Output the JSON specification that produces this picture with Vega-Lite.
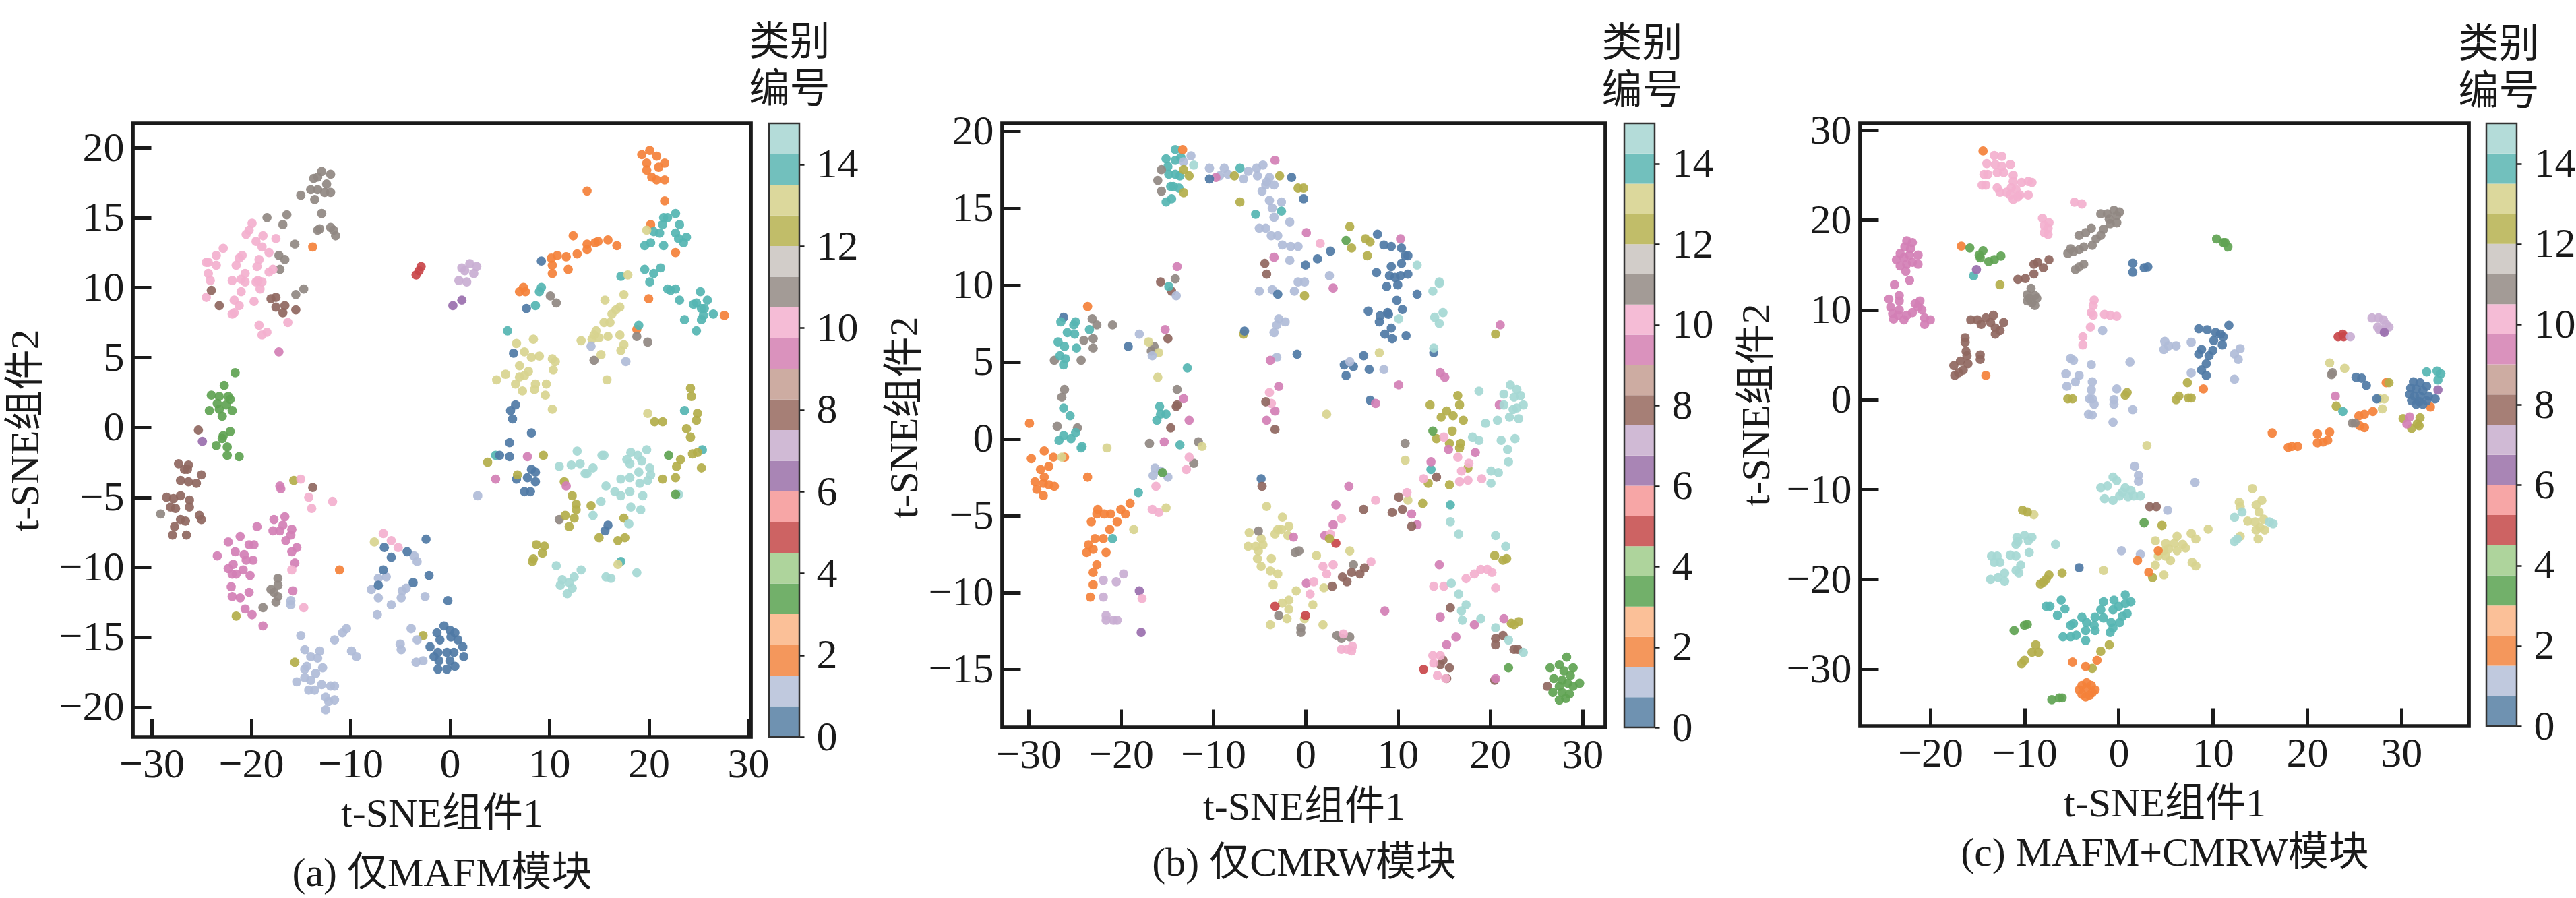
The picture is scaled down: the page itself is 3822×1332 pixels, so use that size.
{
"$schema":"https://vega.github.io/schema/vega-lite/v6.json",
"autosize":{"type":"none"},
"padding":{"left":197,"top":177,"right":3625,"bottom":1155},
"background":"white",
"resolve":{"scale":{"color":"independent"}},
"config":{"view":{"stroke":null},"font":"Liberation Serif, Noto Sans CJK SC",
"axis":{"grid":false,"domain":false,"tickColor":"#1a1a1a","labelColor":"#1a1a1a","titleColor":"#1a1a1a","labelFont":"Liberation Serif","titleFont":"Liberation Serif, Noto Sans CJK SC","labelFontSize":62,"titleFontSize":60,"titleFontWeight":"normal","labelOverlap":false,"labelBound":false,"labelFlush":false},
"title":{"font":"Liberation Serif, Noto Sans CJK SC","fontSize":60,"fontWeight":"normal","color":"#1a1a1a","lineHeight":70,"anchor":"middle"}},
"datasets":{
"bands":[{"v0":0,"v1":0.75,"c":0},{"v0":0.75,"v1":1.5,"c":1},{"v0":1.5,"v1":2.25,"c":2},{"v0":2.25,"v1":3,"c":3},{"v0":3,"v1":3.75,"c":4},{"v0":3.75,"v1":4.5,"c":5},{"v0":4.5,"v1":5.25,"c":6},{"v0":5.25,"v1":6,"c":7},{"v0":6,"v1":6.75,"c":8},{"v0":6.75,"v1":7.5,"c":9},{"v0":7.5,"v1":8.25,"c":10},{"v0":8.25,"v1":9,"c":11},{"v0":9,"v1":9.75,"c":12},{"v0":9.75,"v1":10.5,"c":13},{"v0":10.5,"v1":11.25,"c":14},{"v0":11.25,"v1":12,"c":15},{"v0":12,"v1":12.75,"c":16},{"v0":12.75,"v1":13.5,"c":17},{"v0":13.5,"v1":14.25,"c":18},{"v0":14.25,"v1":15,"c":19}],
"a":[
{"x":-12.9,"y":18.3,"c":14},{"x":-12,"y":18.1,"c":14},{"x":-13.3,"y":17.9,"c":14},{"x":-13.7,"y":17.8,"c":14},{"x":-12.4,"y":17.4,"c":14},{"x":-14,"y":17,"c":14},{"x":-13.3,"y":17,"c":14},{"x":-12.6,"y":16.8,"c":14},{"x":-12,"y":16.8,"c":14},{"x":-15,"y":16.6,"c":14},{"x":-13.6,"y":16.3,"c":14},{"x":-12.9,"y":15.3,"c":14},{"x":-16.4,"y":15.2,"c":14},{"x":-18.4,"y":15,"c":14},{"x":-16.8,"y":14.5,"c":14},{"x":-13.3,"y":14.1,"c":14},{"x":-13.1,"y":14.2,"c":14},{"x":-12,"y":14.3,"c":14},{"x":-11.7,"y":14.1,"c":14},{"x":-11.5,"y":13.7,"c":14},{"x":-15.6,"y":13.1,"c":14},{"x":-17.2,"y":12.3,"c":14},{"x":-16.6,"y":12,"c":14},{"x":-17.1,"y":11.3,"c":14},{"x":-14.7,"y":9.9,"c":14},{"x":-15.5,"y":9.5,"c":14},{"x":-13.8,"y":12.9,"c":2},
{"x":-19.9,"y":14.6,"c":13},{"x":-20.2,"y":14.1,"c":13},{"x":-20.5,"y":13.8,"c":13},{"x":-22.8,"y":12.8,"c":13},{"x":-23.5,"y":12.3,"c":13},{"x":-20.9,"y":12.3,"c":13},{"x":-21.2,"y":12.1,"c":13},{"x":-24.5,"y":11.8,"c":13},{"x":-24.3,"y":11.8,"c":13},{"x":-23.5,"y":11.6,"c":13},{"x":-21.5,"y":11.6,"c":13},{"x":-24.3,"y":11,"c":13},{"x":-24.1,"y":10.5,"c":13},{"x":-24.5,"y":9.3,"c":13},{"x":-21.9,"y":10.5,"c":13},{"x":-21,"y":10.6,"c":13},{"x":-20.6,"y":11,"c":13},{"x":-20.6,"y":10.4,"c":13},{"x":-19.5,"y":13.3,"c":13},{"x":-18.8,"y":13.7,"c":13},{"x":-18.9,"y":12.9,"c":13},{"x":-17.5,"y":13.5,"c":13},{"x":-18.2,"y":12.5,"c":13},{"x":-19.2,"y":12,"c":13},{"x":-19.4,"y":11.5,"c":13},{"x":-18.2,"y":11.1,"c":13},{"x":-17.8,"y":11.3,"c":13},{"x":-19.3,"y":10.5,"c":13},{"x":-19.5,"y":10.4,"c":13},{"x":-18.9,"y":10.4,"c":13},{"x":-19.1,"y":9.9,"c":13},{"x":-21,"y":9.7,"c":13},{"x":-21.7,"y":9.1,"c":13},{"x":-19.7,"y":9,"c":13},{"x":-21.2,"y":8.7,"c":13},{"x":-21.7,"y":8.2,"c":13},{"x":-21.9,"y":8.1,"c":13},{"x":-19.2,"y":7.3,"c":13},{"x":-18.4,"y":6.8,"c":13},{"x":-18.9,"y":6.6,"c":13},{"x":-16.3,"y":7.5,"c":13},{"x":-17.2,"y":5.4,"c":12},
{"x":-24,"y":9.8,"c":10},{"x":-23.2,"y":8.7,"c":10},{"x":-18,"y":9.2,"c":10},{"x":-17.5,"y":9.3,"c":10},{"x":-17.5,"y":8.6,"c":10},{"x":-16.6,"y":8.7,"c":10},{"x":-16.8,"y":8.2,"c":10},{"x":-15.5,"y":8.4,"c":10},
{"x":-2.9,"y":11.5,"c":6},{"x":-3.1,"y":11.2,"c":6},{"x":-3.4,"y":10.9,"c":6},{"x":2,"y":11.7,"c":9},{"x":2.7,"y":11.5,"c":9},{"x":1.2,"y":11.4,"c":9},{"x":1.5,"y":11.2,"c":9},{"x":2.4,"y":11,"c":9},{"x":0.9,"y":10.5,"c":9},{"x":1.7,"y":10.4,"c":9},{"x":1.2,"y":9.1,"c":8},{"x":0.3,"y":8.7,"c":8},
{"x":20.1,"y":19.8,"c":2},{"x":19.3,"y":19.5,"c":2},{"x":20.8,"y":19.4,"c":2},{"x":19.8,"y":18.9,"c":2},{"x":21.6,"y":18.9,"c":2},{"x":21,"y":18.6,"c":2},{"x":19.8,"y":18.4,"c":2},{"x":20.3,"y":17.9,"c":2},{"x":20.8,"y":17.7,"c":2},{"x":21.6,"y":17.7,"c":2},{"x":21.6,"y":16.2,"c":2},{"x":13.8,"y":16.9,"c":2},{"x":20.2,"y":14.5,"c":2},{"x":12.4,"y":13.7,"c":2},{"x":13.8,"y":13.1,"c":2},{"x":13.8,"y":12.7,"c":2},{"x":14.6,"y":13.2,"c":2},{"x":14.9,"y":13.3,"c":2},{"x":15.9,"y":13.4,"c":2},{"x":16.8,"y":13,"c":2},{"x":12.8,"y":12.4,"c":2},{"x":11.7,"y":12.2,"c":2},{"x":10.2,"y":12.1,"c":2},{"x":10.8,"y":12.3,"c":2},{"x":10.3,"y":11.6,"c":2},{"x":10.3,"y":11,"c":2},{"x":11.9,"y":11.3,"c":2},{"x":22.7,"y":12.5,"c":2},{"x":7.4,"y":10,"c":2},{"x":7,"y":9.7,"c":2},{"x":7.6,"y":9.7,"c":2},{"x":20,"y":9.2,"c":2},{"x":27.6,"y":8,"c":2},{"x":18.8,"y":7,"c":2},{"x":-11.1,"y":-10.2,"c":2},
{"x":22.7,"y":15.3,"c":18},{"x":21.5,"y":15,"c":18},{"x":21.9,"y":15,"c":18},{"x":21.4,"y":14.5,"c":18},{"x":23.1,"y":14.5,"c":18},{"x":20.5,"y":14,"c":18},{"x":21.1,"y":13.9,"c":18},{"x":22.7,"y":13.9,"c":18},{"x":23,"y":13.5,"c":18},{"x":23.8,"y":13.6,"c":18},{"x":23.5,"y":13.2,"c":18},{"x":20.2,"y":13.2,"c":18},{"x":19.6,"y":13,"c":18},{"x":21.5,"y":13,"c":18},{"x":19.6,"y":11.3,"c":18},{"x":21.2,"y":11.4,"c":18},{"x":20.5,"y":11,"c":18},{"x":20.1,"y":10.4,"c":18},{"x":17.2,"y":10.8,"c":18},{"x":9.2,"y":10,"c":18},{"x":9,"y":9.7,"c":18},{"x":8.6,"y":8.7,"c":18},{"x":21.9,"y":9.9,"c":18},{"x":22.7,"y":9.9,"c":18},{"x":22.2,"y":9.8,"c":18},{"x":23.1,"y":9.1,"c":18},{"x":24.8,"y":8.9,"c":18},{"x":24.5,"y":8.8,"c":18},{"x":25.2,"y":9.7,"c":18},{"x":25.9,"y":9.1,"c":18},{"x":25.6,"y":8.5,"c":18},{"x":25.3,"y":8.5,"c":18},{"x":26.5,"y":8.1,"c":18},{"x":25.5,"y":8,"c":18},{"x":25.3,"y":7.7,"c":18},{"x":23.6,"y":7.7,"c":18},{"x":24.8,"y":6.9,"c":18},{"x":19,"y":7.3,"c":18},{"x":5.8,"y":6.9,"c":18},{"x":23.6,"y":1.2,"c":18},{"x":25.4,"y":-1.6,"c":18},{"x":4.6,"y":-2,"c":18},{"x":17.2,"y":-9.6,"c":18},
{"x":10.1,"y":9.4,"c":14},{"x":10.7,"y":8.9,"c":14},{"x":18.8,"y":6.5,"c":14},{"x":19.9,"y":6.1,"c":14},{"x":14.5,"y":4.8,"c":14},{"x":11,"y":-6.6,"c":14},
{"x":9.2,"y":11.9,"c":0},{"x":7.7,"y":8.5,"c":0},{"x":6.4,"y":5.3,"c":0},{"x":6.6,"y":1.6,"c":0},{"x":6.1,"y":1.2,"c":0},{"x":6.3,"y":0.6,"c":0},{"x":8.2,"y":-0.4,"c":0},{"x":6,"y":-1.1,"c":0},{"x":5,"y":-2,"c":0},{"x":6,"y":-2.1,"c":0},{"x":8.2,"y":-3,"c":0},{"x":8.6,"y":-3.2,"c":0},{"x":7.8,"y":-3.6,"c":0},{"x":8.6,"y":-3.9,"c":0},{"x":6.7,"y":-3.7,"c":0},{"x":7.5,"y":-4.6,"c":0},{"x":8.1,"y":-4.6,"c":0},{"x":15.9,"y":-7,"c":0},{"x":15.6,"y":-7.4,"c":0},
{"x":17.9,"y":10.9,"c":17},{"x":17.5,"y":9.5,"c":17},{"x":15.6,"y":9.1,"c":17},{"x":17.1,"y":8.6,"c":17},{"x":16.7,"y":8.4,"c":17},{"x":16.3,"y":8.1,"c":17},{"x":16.1,"y":7.5,"c":17},{"x":15.5,"y":7.5,"c":17},{"x":14.7,"y":6.9,"c":17},{"x":14.5,"y":6.6,"c":17},{"x":17.1,"y":6.6,"c":17},{"x":13.2,"y":6.2,"c":17},{"x":14.3,"y":6.3,"c":17},{"x":15,"y":6.4,"c":17},{"x":15.9,"y":6.5,"c":17},{"x":17.5,"y":5.9,"c":17},{"x":17.2,"y":5.5,"c":17},{"x":15.2,"y":5.2,"c":17},{"x":15.8,"y":3.4,"c":17},{"x":8.4,"y":6.3,"c":17},{"x":6.7,"y":6,"c":17},{"x":7.5,"y":5.4,"c":17},{"x":8.2,"y":5,"c":17},{"x":9,"y":5.1,"c":17},{"x":10.3,"y":4.9,"c":17},{"x":10.6,"y":4.7,"c":17},{"x":10.4,"y":4.1,"c":17},{"x":7,"y":4.4,"c":17},{"x":7.9,"y":4,"c":17},{"x":5.6,"y":3.8,"c":17},{"x":7,"y":3.6,"c":17},{"x":7.5,"y":3.7,"c":17},{"x":4.7,"y":3.4,"c":17},{"x":6.6,"y":3.1,"c":17},{"x":8.6,"y":3.1,"c":17},{"x":9.7,"y":3.1,"c":17},{"x":8.5,"y":2.7,"c":17},{"x":7.3,"y":2.6,"c":17},{"x":9.6,"y":2.3,"c":17},{"x":10.3,"y":1.3,"c":17},{"x":19.9,"y":1,"c":17},{"x":19.8,"y":14.1,"c":17},{"x":-7.6,"y":-8.2,"c":17},{"x":16.9,"y":-9.8,"c":17},{"x":14.2,"y":5.8,"c":1},{"x":17.7,"y":4.7,"c":1},{"x":2.8,"y":-4.9,"c":1},
{"x":-15.7,"y":-3.8,"c":16},{"x":24.2,"y":2.8,"c":16},{"x":24.3,"y":2.2,"c":16},{"x":24.9,"y":1,"c":16},{"x":24.8,"y":0.5,"c":16},{"x":20.6,"y":0.4,"c":16},{"x":21.4,"y":0.4,"c":16},{"x":23.8,"y":-0.1,"c":16},{"x":24.2,"y":-0.7,"c":16},{"x":24.4,"y":-1.9,"c":16},{"x":24.9,"y":-1.8,"c":16},{"x":23.2,"y":-2.3,"c":16},{"x":22.8,"y":-2.8,"c":16},{"x":25.3,"y":-2.9,"c":16},{"x":21.4,"y":-3.7,"c":16},{"x":22.7,"y":-3.6,"c":16},{"x":9.4,"y":-2,"c":16},{"x":3.8,"y":-2.5,"c":16},{"x":6.8,"y":-3.4,"c":16},{"x":11.5,"y":-3.9,"c":16},{"x":12.3,"y":-4.9,"c":16},{"x":12.7,"y":-5.5,"c":16},{"x":12.7,"y":-5.9,"c":16},{"x":14.2,"y":-5.6,"c":16},{"x":11.6,"y":-6.3,"c":16},{"x":12.5,"y":-6.5,"c":16},{"x":12,"y":-7.1,"c":16},{"x":17.5,"y":-6.5,"c":16},{"x":15,"y":-7.9,"c":16},{"x":16.9,"y":-8.1,"c":16},{"x":17.6,"y":-7.9,"c":16},{"x":8.7,"y":-8.4,"c":16},{"x":9.5,"y":-8.5,"c":16},{"x":9.3,"y":-9,"c":16},{"x":8.4,"y":-9.4,"c":16},{"x":8.3,"y":-9.6,"c":16},{"x":-21.5,"y":-13.5,"c":16},{"x":-15.6,"y":-16.8,"c":16},{"x":-2.7,"y":-14.9,"c":16},
{"x":22,"y":-2,"c":4},{"x":23,"y":-4.8,"c":19},{"x":22.7,"y":-4.8,"c":4},{"x":7.8,"y":-2.1,"c":12},{"x":4.6,"y":-3.7,"c":12},{"x":11.7,"y":-4.2,"c":12},{"x":-24.9,"y":-1,"c":8},
{"x":12.8,"y":-1.7,"c":19},{"x":11,"y":-2.8,"c":19},{"x":12.2,"y":-2.7,"c":19},{"x":13.1,"y":-2.6,"c":19},{"x":14.4,"y":-2.9,"c":19},{"x":13.6,"y":-3.3,"c":19},{"x":13.8,"y":-3.3,"c":19},{"x":15.3,"y":-2,"c":19},{"x":15.5,"y":-2,"c":19},{"x":18.2,"y":-1.8,"c":19},{"x":19.8,"y":-1.6,"c":19},{"x":17.8,"y":-2.3,"c":19},{"x":18.9,"y":-2,"c":19},{"x":19.3,"y":-2.4,"c":19},{"x":18.1,"y":-2.6,"c":19},{"x":20.1,"y":-2.9,"c":19},{"x":19,"y":-3.2,"c":19},{"x":20.2,"y":-3.4,"c":19},{"x":17.2,"y":-3.7,"c":19},{"x":18.1,"y":-3.6,"c":19},{"x":19.9,"y":-3.8,"c":19},{"x":19.1,"y":-4,"c":19},{"x":15.7,"y":-4.2,"c":19},{"x":16.6,"y":-4.6,"c":19},{"x":17.2,"y":-4.9,"c":19},{"x":18.1,"y":-4.6,"c":19},{"x":19.4,"y":-4.9,"c":19},{"x":15.2,"y":-5.3,"c":19},{"x":18.2,"y":-5.7,"c":19},{"x":14.4,"y":-6.3,"c":19},{"x":19.2,"y":-5.9,"c":19},{"x":18,"y":-6.9,"c":19},{"x":10.7,"y":-9.9,"c":19},{"x":13.2,"y":-10.2,"c":19},{"x":12.5,"y":-10.7,"c":19},{"x":11.3,"y":-10.9,"c":19},{"x":12,"y":-11.1,"c":19},{"x":11.1,"y":-11.3,"c":19},{"x":12.3,"y":-11.5,"c":19},{"x":11.8,"y":-11.9,"c":19},{"x":15.7,"y":-10.7,"c":19},{"x":16.2,"y":-10.8,"c":19},{"x":18.8,"y":-10.4,"c":19},
{"x":-21.6,"y":3.9,"c":4},{"x":-22.7,"y":3,"c":4},{"x":-24,"y":2.3,"c":4},{"x":-23.2,"y":2.2,"c":4},{"x":-22.3,"y":2.2,"c":4},{"x":-22.1,"y":2,"c":4},{"x":-23.4,"y":1.7,"c":4},{"x":-22.5,"y":1.6,"c":4},{"x":-24.2,"y":1.2,"c":4},{"x":-23.2,"y":1.3,"c":4},{"x":-21.9,"y":1.2,"c":4},{"x":-22.9,"y":0.8,"c":4},{"x":-22.1,"y":-0.3,"c":4},{"x":-22.8,"y":-0.6,"c":4},{"x":-22.9,"y":-0.8,"c":4},{"x":-23.5,"y":-1.3,"c":4},{"x":-22.4,"y":-1.4,"c":4},{"x":-22.4,"y":-2,"c":4},{"x":-21.2,"y":-2.1,"c":4},{"x":-25.3,"y":-0.2,"c":10},
{"x":-27.3,"y":-2.6,"c":10},{"x":-26.3,"y":-2.7,"c":10},{"x":-26.7,"y":-3,"c":10},{"x":-26.4,"y":-3,"c":10},{"x":-25,"y":-3.4,"c":10},{"x":-27.1,"y":-3.8,"c":10},{"x":-26.3,"y":-3.9,"c":10},{"x":-25.5,"y":-4,"c":10},{"x":-28.5,"y":-5,"c":10},{"x":-27.1,"y":-4.9,"c":10},{"x":-27.8,"y":-5.1,"c":10},{"x":-26.2,"y":-5.2,"c":10},{"x":-26.2,"y":-5.7,"c":10},{"x":-28.1,"y":-5.7,"c":10},{"x":-27.6,"y":-5.8,"c":10},{"x":-25.2,"y":-6.3,"c":10},{"x":-25,"y":-6.6,"c":10},{"x":-27.1,"y":-6.6,"c":10},{"x":-26.6,"y":-6.7,"c":10},{"x":-27.7,"y":-7.1,"c":10},{"x":-27.9,"y":-7.7,"c":10},{"x":-26.5,"y":-7.7,"c":10},{"x":-29.1,"y":-6.2,"c":14},
{"x":-17.1,"y":-4.2,"c":12},{"x":-17,"y":-4.4,"c":12},{"x":-16.6,"y":-6.4,"c":12},{"x":-17.7,"y":-6.6,"c":12},{"x":-16.8,"y":-7,"c":12},{"x":-15.9,"y":-7.3,"c":12},{"x":-17.8,"y":-7.4,"c":12},{"x":-17.1,"y":-7.4,"c":12},{"x":-16,"y":-7.7,"c":12},{"x":-16.5,"y":-8.1,"c":12},{"x":-15.4,"y":-8.6,"c":12},{"x":-15.9,"y":-8.9,"c":12},{"x":-19.4,"y":-7.1,"c":12},{"x":-21.1,"y":-7.8,"c":12},{"x":-22.3,"y":-8.2,"c":12},{"x":-20.2,"y":-8.4,"c":12},{"x":-19.7,"y":-8.4,"c":12},{"x":-23.4,"y":-9.2,"c":12},{"x":-21.6,"y":-8.9,"c":12},{"x":-20.7,"y":-9.1,"c":12},{"x":-19.8,"y":-9.5,"c":12},{"x":-20.5,"y":-9.5,"c":12},{"x":-21.8,"y":-9.8,"c":12},{"x":-22.3,"y":-10.1,"c":12},{"x":-21.9,"y":-10.5,"c":12},{"x":-20.8,"y":-10.2,"c":12},{"x":-21.5,"y":-10.5,"c":12},{"x":-20.1,"y":-10.6,"c":12},{"x":-15.6,"y":-9.7,"c":12},{"x":-22,"y":-11.4,"c":12},{"x":-20.2,"y":-11.8,"c":12},{"x":-15.8,"y":-11.7,"c":12},{"x":-21.9,"y":-12.1,"c":12},{"x":-21.1,"y":-12.2,"c":12},{"x":-20.6,"y":-13,"c":12},{"x":-19.9,"y":-13.4,"c":12},{"x":-18.8,"y":-14.2,"c":12},
{"x":-15,"y":-3.7,"c":13},{"x":-14.2,"y":-5,"c":13},{"x":-13.9,"y":-5.8,"c":13},{"x":-11.8,"y":-5.3,"c":13},{"x":-15.9,"y":-10.2,"c":13},{"x":-14.7,"y":-12.9,"c":13},{"x":-6.7,"y":-7.6,"c":13},{"x":-5.9,"y":-8.1,"c":13},{"x":-5.2,"y":-8.6,"c":13},{"x":-13.8,"y":-4.3,"c":10},
{"x":-17.3,"y":-10.8,"c":14},{"x":-17.3,"y":-11.3,"c":14},{"x":-17.7,"y":-11.8,"c":14},{"x":-17.3,"y":-12.1,"c":14},{"x":-17.5,"y":-12.5,"c":14},{"x":-18.8,"y":-12.9,"c":14},{"x":-18,"y":-11.6,"c":14},
{"x":-16,"y":-12.4,"c":1},{"x":-16,"y":-12.7,"c":1},{"x":-15,"y":-14.9,"c":1},{"x":-10.4,"y":-14.4,"c":1},{"x":-10.8,"y":-14.7,"c":1},{"x":-11.6,"y":-15.2,"c":1},{"x":-9.9,"y":-16,"c":1},{"x":-9.4,"y":-16.4,"c":1},{"x":-14.6,"y":-15.9,"c":1},{"x":-13.1,"y":-16,"c":1},{"x":-14,"y":-16.4,"c":1},{"x":-13.3,"y":-16.5,"c":1},{"x":-14.4,"y":-17.1,"c":1},{"x":-14.6,"y":-17.3,"c":1},{"x":-12.8,"y":-17.2,"c":1},{"x":-13.5,"y":-17.6,"c":1},{"x":-14.6,"y":-17.9,"c":1},{"x":-15.4,"y":-18.2,"c":1},{"x":-14,"y":-18.1,"c":1},{"x":-12.9,"y":-18.4,"c":1},{"x":-12,"y":-18.5,"c":1},{"x":-11.6,"y":-18.5,"c":1},{"x":-14.2,"y":-18.8,"c":1},{"x":-13.6,"y":-18.8,"c":1},{"x":-12.5,"y":-19.3,"c":1},{"x":-11.6,"y":-19.5,"c":1},{"x":-12.2,"y":-19.6,"c":1},{"x":-12.5,"y":-20.2,"c":1},
{"x":-3.6,"y":-9.2,"c":1},{"x":-3.3,"y":-9.6,"c":1},{"x":-7.9,"y":-11.6,"c":1},{"x":-6.4,"y":-10.7,"c":1},{"x":-7.2,"y":-10.8,"c":1},{"x":-4.4,"y":-11.5,"c":1},{"x":-4.8,"y":-11.7,"c":1},{"x":-7.2,"y":-12.2,"c":1},{"x":-4.9,"y":-12.2,"c":1},{"x":-2.5,"y":-12.1,"c":1},{"x":-5.9,"y":-12.7,"c":1},{"x":-7.3,"y":-13.4,"c":1},{"x":-3.9,"y":-14.4,"c":1},{"x":-3.3,"y":-15.2,"c":1},{"x":-5,"y":-15.5,"c":1},{"x":-4.9,"y":-15.9,"c":1},{"x":-3.4,"y":-16.8,"c":1},{"x":-2.7,"y":-16.7,"c":1},
{"x":-2.4,"y":-8,"c":0},{"x":-4.3,"y":-8.9,"c":0},{"x":-6.6,"y":-8.6,"c":0},{"x":-5.9,"y":-9.3,"c":0},{"x":-6.7,"y":-10.2,"c":0},{"x":-2.1,"y":-10.6,"c":0},{"x":-7.2,"y":-11.3,"c":0},{"x":-3.7,"y":-11.1,"c":0},{"x":-0.2,"y":-12.4,"c":0},{"x":-0.6,"y":-14.2,"c":0},{"x":0,"y":-14.5,"c":0},{"x":-1.3,"y":-14.7,"c":0},{"x":0.5,"y":-14.7,"c":0},{"x":-1,"y":-15.2,"c":0},{"x":0.1,"y":-15,"c":0},{"x":0.8,"y":-15.2,"c":0},{"x":-2,"y":-15.7,"c":0},{"x":1.3,"y":-15.7,"c":0},{"x":-1.2,"y":-16.1,"c":0},{"x":-0.3,"y":-16.1,"c":0},{"x":0.4,"y":-16.1,"c":0},{"x":-1.6,"y":-16.4,"c":0},{"x":1.4,"y":-16.4,"c":0},{"x":-1.1,"y":-16.7,"c":0},{"x":0,"y":-16.7,"c":0},{"x":-1.2,"y":-17.3,"c":0},{"x":-0.3,"y":-17.3,"c":0},{"x":0.5,"y":-17.1,"c":0}
],
"b":[
{"x":-14.1,"y":18.8,"c":18},{"x":-15.1,"y":18.2,"c":18},{"x":-14.1,"y":18.1,"c":18},{"x":-13.5,"y":18.3,"c":18},{"x":-14.9,"y":17.7,"c":18},{"x":-14.8,"y":17.2,"c":18},{"x":-14.1,"y":17.2,"c":18},{"x":-13.6,"y":17.1,"c":18},{"x":-14.3,"y":16.4,"c":18},{"x":-14.6,"y":16.4,"c":18},{"x":-13.7,"y":16.3,"c":18},{"x":-14.5,"y":15.6,"c":18},{"x":-15.1,"y":15.4,"c":18},{"x":-13.3,"y":18.8,"c":2},{"x":-12.4,"y":18.4,"c":1},{"x":-13.2,"y":18,"c":1},{"x":-12.1,"y":17.8,"c":19},{"x":-13.2,"y":17.5,"c":16},{"x":-12.6,"y":17.1,"c":16},{"x":-13.2,"y":16,"c":16},{"x":-15.6,"y":17.5,"c":14},{"x":-16,"y":16.8,"c":14},{"x":-15.6,"y":16.1,"c":14},
{"x":-10.4,"y":17.6,"c":1},{"x":-8.8,"y":17.6,"c":1},{"x":-9.3,"y":17.1,"c":1},{"x":-8.4,"y":17.2,"c":1},{"x":-6.2,"y":17.4,"c":1},{"x":-5.3,"y":17.6,"c":1},{"x":-4.6,"y":17.8,"c":1},{"x":-6.7,"y":16.9,"c":1},{"x":-5.2,"y":17.1,"c":1},{"x":-3.9,"y":17,"c":1},{"x":-4.2,"y":16.7,"c":1},{"x":-3.4,"y":16.5,"c":1},{"x":-4.3,"y":16.5,"c":1},{"x":-4.7,"y":16.1,"c":1},{"x":-3.9,"y":15.5,"c":1},{"x":-3.6,"y":15,"c":1},{"x":-2.6,"y":15.4,"c":1},{"x":-3.4,"y":14.4,"c":1},{"x":-1.7,"y":14.1,"c":1},{"x":-5,"y":13.7,"c":1},{"x":-4.3,"y":13.7,"c":1},{"x":-3.7,"y":13.2,"c":1},{"x":-3,"y":13.2,"c":1},{"x":-2.5,"y":12.6,"c":1},{"x":-1.6,"y":12.5,"c":1},{"x":-0.8,"y":12.5,"c":1},{"x":-1.7,"y":11.6,"c":1},{"x":2.6,"y":10.6,"c":1},{"x":-0.8,"y":10.2,"c":1},{"x":-0.1,"y":10.2,"c":1},{"x":-1.2,"y":9.6,"c":1},{"x":-5,"y":9.6,"c":1},{"x":-3.6,"y":9.7,"c":1},{"x":-2.9,"y":7.8,"c":1},{"x":-2.2,"y":7.6,"c":1},{"x":-3.1,"y":7.4,"c":1},{"x":-3.4,"y":6.9,"c":1},{"x":-3.1,"y":5.3,"c":1},
{"x":-2.6,"y":14.8,"c":18},{"x":-5.4,"y":14.6,"c":18},{"x":-7.1,"y":17.6,"c":18},{"x":-9.7,"y":17,"c":12},{"x":-3.3,"y":18.1,"c":12},{"x":0.1,"y":13.4,"c":12},{"x":-3.4,"y":11.8,"c":12},{"x":10.3,"y":13,"c":12},{"x":3,"y":9.8,"c":12},{"x":-10.4,"y":16.9,"c":0},{"x":-1.5,"y":17,"c":0},{"x":-0.2,"y":15.6,"c":0},
{"x":-7.7,"y":17.1,"c":16},{"x":-2.8,"y":17.1,"c":16},{"x":-0.8,"y":16.3,"c":16},{"x":-0.2,"y":16.3,"c":16},{"x":-7.1,"y":15.4,"c":16},{"x":4.8,"y":13.8,"c":16},{"x":6.5,"y":13,"c":16},{"x":7,"y":12.8,"c":16},{"x":5,"y":12.4,"c":16},{"x":6.7,"y":11.9,"c":16},{"x":-0.1,"y":9.3,"c":16},{"x":-6.7,"y":6.8,"c":16},{"x":4.4,"y":12.9,"c":4},{"x":1.6,"y":12.7,"c":13},{"x":-4.4,"y":11.4,"c":10},{"x":-4.2,"y":10.7,"c":10},
{"x":0,"y":11.3,"c":0},{"x":1.3,"y":11.7,"c":0},{"x":2.7,"y":12.2,"c":0},{"x":-3,"y":9.4,"c":0},{"x":7.8,"y":13.3,"c":0},{"x":8.5,"y":12.6,"c":0},{"x":9.3,"y":12.5,"c":0},{"x":10.4,"y":12.4,"c":0},{"x":10.8,"y":11.9,"c":0},{"x":11.1,"y":11.9,"c":0},{"x":10.4,"y":11.4,"c":0},{"x":7.7,"y":10.8,"c":0},{"x":9.3,"y":11.2,"c":0},{"x":9.1,"y":10.6,"c":0},{"x":9.7,"y":10.5,"c":0},{"x":10.3,"y":10.6,"c":0},{"x":11.1,"y":10.7,"c":0},{"x":10,"y":10,"c":0},{"x":8.8,"y":9.9,"c":0},{"x":9.9,"y":9,"c":0},{"x":6.8,"y":8.3,"c":0},{"x":12.1,"y":9.4,"c":0},{"x":10.5,"y":8.4,"c":0},{"x":8.1,"y":8,"c":0},{"x":9,"y":8.1,"c":0},{"x":8.9,"y":8.2,"c":0},{"x":8,"y":7.6,"c":0},{"x":9.3,"y":7.2,"c":0},{"x":8.6,"y":6.8,"c":0},{"x":9.4,"y":6.5,"c":0},{"x":10.9,"y":6.7,"c":0},{"x":6.3,"y":5.4,"c":0},{"x":-0.9,"y":5.5,"c":0},{"x":-6.6,"y":7,"c":0},{"x":-19.2,"y":6,"c":0},{"x":4.2,"y":4.8,"c":0},{"x":5.2,"y":4.7,"c":0},{"x":4.4,"y":4.1,"c":0},{"x":6.9,"y":4.5,"c":0},{"x":7,"y":2.5,"c":0},{"x":13.9,"y":5.6,"c":0},{"x":-26.2,"y":7.9,"c":0},{"x":-4.8,"y":-2.6,"c":0},
{"x":4.8,"y":5,"c":1},{"x":8.5,"y":4.5,"c":1},{"x":8,"y":5.6,"c":17},{"x":2.3,"y":1.6,"c":17},
{"x":-3.8,"y":5.1,"c":12},{"x":-2.9,"y":3.4,"c":12},{"x":-3.3,"y":1.8,"c":12},{"x":-4.2,"y":1.2,"c":12},{"x":7.6,"y":2.3,"c":12},{"x":10.1,"y":3.5,"c":12},{"x":14.6,"y":4.3,"c":12},{"x":15.1,"y":4,"c":12},{"x":21,"y":2.2,"c":12},{"x":21.1,"y":7.4,"c":12},{"x":-15.2,"y":7.1,"c":12},{"x":-13.9,"y":11.2,"c":12},{"x":-13.2,"y":2.6,"c":12},{"x":-12.6,"y":1.2,"c":12},{"x":-15.3,"y":-0.2,"c":12},{"x":-3.9,"y":3,"c":13},{"x":-3.7,"y":2.3,"c":13},
{"x":-4.3,"y":2.4,"c":10},{"x":-3.3,"y":0.6,"c":10},{"x":-4.7,"y":-3.1,"c":10},{"x":-15.7,"y":10.2,"c":10},{"x":-14.5,"y":9.6,"c":10},{"x":-14.9,"y":6.5,"c":10},{"x":-13.9,"y":2.2,"c":10},{"x":-14,"y":2.1,"c":10},{"x":-14.6,"y":0.7,"c":10},
{"x":-14.1,"y":10.4,"c":14},{"x":-16.9,"y":-0.3,"c":14},{"x":-12.1,"y":-1.6,"c":14},{"x":-11.6,"y":-0.2,"c":14},{"x":-23.1,"y":7.8,"c":14},{"x":-20.9,"y":7.4,"c":14},{"x":-22.6,"y":7.4,"c":14},{"x":-23,"y":6.5,"c":14},{"x":-24,"y":6.4,"c":14},{"x":-23,"y":5.9,"c":14},{"x":-24.3,"y":5.1,"c":14},{"x":-27.2,"y":5.1,"c":14},{"x":-26.1,"y":3.2,"c":14},{"x":-26.4,"y":2.7,"c":14},{"x":-24.7,"y":0.7,"c":14},{"x":-26.9,"y":0.8,"c":14},{"x":-16.4,"y":6,"c":14},{"x":-16.7,"y":5.7,"c":14},{"x":-13.9,"y":3.2,"c":14},
{"x":-26.5,"y":7.6,"c":18},{"x":-24.9,"y":7.6,"c":18},{"x":-25.1,"y":7.4,"c":18},{"x":-25.8,"y":6.9,"c":18},{"x":-25,"y":6.8,"c":18},{"x":-23.4,"y":7.1,"c":18},{"x":-26.8,"y":6.3,"c":18},{"x":-26.1,"y":6,"c":18},{"x":-24.8,"y":5.9,"c":18},{"x":-26.6,"y":5.4,"c":18},{"x":-26,"y":5.2,"c":18},{"x":-26.2,"y":4.8,"c":18},{"x":-26.2,"y":2,"c":18},{"x":-25.5,"y":1.5,"c":18},{"x":-26.2,"y":0.2,"c":18},{"x":-26.7,"y":-0.1,"c":18},{"x":-25.4,"y":0,"c":18},{"x":-24.9,"y":0.4,"c":18},{"x":-24.2,"y":-0.5,"c":18},{"x":-24.3,"y":-0.6,"c":18},{"x":-12.8,"y":4.6,"c":18},{"x":-15.8,"y":2.1,"c":18},{"x":-15.7,"y":1.6,"c":18},{"x":-15.1,"y":1.6,"c":18},{"x":-16.1,"y":1.2,"c":18},{"x":-13.6,"y":-0.4,"c":18},{"x":-14.8,"y":9.9,"c":18},{"x":-18.1,"y":-3.5,"c":18},{"x":13.6,"y":-2,"c":18},{"x":15.7,"y":-4.3,"c":18},{"x":-20.9,"y":-6.5,"c":18},
{"x":-23.6,"y":8.6,"c":2},{"x":-29.9,"y":1,"c":2},{"x":-29.7,"y":-1.3,"c":2},{"x":-28.3,"y":-0.8,"c":2},{"x":-27.3,"y":-1.2,"c":2},{"x":-27.8,"y":-1.8,"c":2},{"x":-26.1,"y":-1.2,"c":2},{"x":-28.7,"y":-2,"c":2},{"x":-28.3,"y":-2.5,"c":2},{"x":-29.3,"y":-2.8,"c":2},{"x":-28.4,"y":-2.9,"c":2},{"x":-27.8,"y":-3,"c":2},{"x":-27.2,"y":-3.1,"c":2},{"x":-29.1,"y":-3.3,"c":2},{"x":-28.4,"y":-3.7,"c":2},{"x":-23.6,"y":-2.5,"c":2},{"x":-19,"y":-4.2,"c":2},{"x":-22.5,"y":-4.6,"c":2},{"x":-22.6,"y":-4.9,"c":2},{"x":-21.8,"y":-4.9,"c":2},{"x":-21.1,"y":-4.9,"c":2},{"x":-20,"y":-4.6,"c":2},{"x":-19.5,"y":-4.9,"c":2},{"x":-23.2,"y":-5.4,"c":2},{"x":-20.4,"y":-5.4,"c":2},{"x":-21.2,"y":-5.9,"c":2},{"x":-22.8,"y":-6.5,"c":2},{"x":-21.9,"y":-6.5,"c":2},{"x":-23.5,"y":-6.9,"c":2},{"x":-23,"y":-7.2,"c":2},{"x":-23.7,"y":-7.4,"c":2},{"x":-21.6,"y":-7.4,"c":2},{"x":-22.6,"y":-8.2,"c":2},{"x":-23,"y":-8.7,"c":2},{"x":-23,"y":-9.5,"c":2},{"x":-23.3,"y":-10.3,"c":2},
{"x":-21.5,"y":-0.6,"c":17},{"x":-26.4,"y":-1.2,"c":17},{"x":-18.6,"y":-5.9,"c":17},{"x":-17,"y":6.3,"c":17},{"x":-16,"y":4,"c":17},{"x":-15.9,"y":5.6,"c":17},{"x":-11.2,"y":-0.5,"c":17},
{"x":-18,"y":6.8,"c":1},{"x":-16.6,"y":5.4,"c":1},{"x":-16.3,"y":-1.9,"c":1},{"x":-16.5,"y":-2.4,"c":1},{"x":-15.7,"y":-2.1,"c":1},{"x":-14.9,"y":-2.5,"c":1},{"x":-14,"y":9.3,"c":1},{"x":-15.5,"y":-2.2,"c":4},
{"x":-12.6,"y":-1.2,"c":13},{"x":-12.9,"y":-2,"c":13},{"x":-16.2,"y":-3.1,"c":13},{"x":-16.6,"y":-4.6,"c":13},{"x":-15.9,"y":-4.8,"c":13},{"x":-15.1,"y":-4.5,"c":17},
{"x":-21.9,"y":-9.2,"c":9},{"x":-20.5,"y":-9.3,"c":9},{"x":-19.7,"y":-8.8,"c":9},{"x":-21.9,"y":-10.3,"c":9},{"x":-21.6,"y":-11.5,"c":9},{"x":-21.6,"y":-11.8,"c":9},{"x":-20.8,"y":-11.8,"c":9},{"x":-20.4,"y":-11.8,"c":9},{"x":-18,"y":-9.9,"c":8},{"x":-17.8,"y":-12.6,"c":8},{"x":-17.7,"y":-10.4,"c":13},
{"x":-4.2,"y":-4.4,"c":17},{"x":-2.5,"y":-5.1,"c":17},{"x":-1.8,"y":-5.7,"c":17},{"x":-2.6,"y":-5.9,"c":17},{"x":-3,"y":-5.9,"c":17},{"x":-6.1,"y":-6.1,"c":17},{"x":-3.3,"y":-6.2,"c":17},{"x":-1.9,"y":-6.3,"c":17},{"x":-4.8,"y":-6.5,"c":17},{"x":-6.2,"y":-7,"c":17},{"x":-5.4,"y":-7,"c":17},{"x":-4.6,"y":-6.9,"c":17},{"x":-3.7,"y":-7.8,"c":17},{"x":-5.1,"y":-7.3,"c":17},{"x":-5.2,"y":-7.8,"c":17},{"x":-4.8,"y":-8.3,"c":17},{"x":-3.8,"y":-8.6,"c":17},{"x":-3,"y":-8.8,"c":17},{"x":-3.5,"y":-9.5,"c":17},{"x":-1,"y":-9.9,"c":17},{"x":-1.8,"y":-10.5,"c":17},{"x":-2.5,"y":-10.7,"c":17},{"x":0.8,"y":-10.8,"c":17},{"x":-1.8,"y":-11.1,"c":17},{"x":-2,"y":-11.7,"c":17},{"x":-0.1,"y":-11.7,"c":17},{"x":-3.8,"y":-12.1,"c":17},{"x":1.9,"y":-12.1,"c":17},{"x":1.2,"y":-7.6,"c":17},{"x":2,"y":-9.7,"c":17},{"x":4.8,"y":-7.3,"c":17},
{"x":-1.3,"y":-6.4,"c":12},{"x":2.1,"y":-6.3,"c":12},{"x":3,"y":-5.6,"c":12},{"x":3.3,"y":-4.3,"c":12},{"x":4.7,"y":-3.1,"c":12},{"x":0.1,"y":-9.4,"c":12},{"x":11.5,"y":-4.9,"c":12},{"x":12.1,"y":-5.6,"c":12},{"x":8.6,"y":-11.2,"c":12},
{"x":3.9,"y":-5.2,"c":13},{"x":7.6,"y":-4,"c":13},{"x":0.9,"y":-9.3,"c":13},{"x":0.5,"y":-10.1,"c":13},{"x":1.9,"y":-8.3,"c":13},{"x":3,"y":-8.2,"c":13},{"x":2.3,"y":-8.8,"c":13},{"x":7.1,"y":-8,"c":13},{"x":2.7,"y":-6.2,"c":13},
{"x":3.3,"y":-6.8,"c":6},{"x":-3.3,"y":-10.9,"c":6},{"x":0,"y":-11.5,"c":6},{"x":12.8,"y":-15,"c":6},
{"x":-5.1,"y":-6,"c":14},{"x":-1.1,"y":-7.4,"c":14},{"x":-0.7,"y":-7.3,"c":14},{"x":-2.9,"y":-11.5,"c":14},{"x":-0.5,"y":-12.3,"c":14},{"x":-0.5,"y":-12.6,"c":14},{"x":5.2,"y":-8.2,"c":14},{"x":3.4,"y":-12.8,"c":14},{"x":3.9,"y":-13,"c":14},{"x":4.8,"y":-12.9,"c":14},{"x":2.6,"y":-6.5,"c":16},
{"x":6.3,"y":-4.6,"c":10},{"x":10.1,"y":-3.8,"c":10},{"x":9.4,"y":-4.8,"c":10},{"x":10.5,"y":-4.6,"c":10},{"x":11.5,"y":-5.7,"c":10},{"x":2.9,"y":-9.6,"c":10},{"x":4,"y":-9,"c":10},{"x":4.5,"y":-9.3,"c":10},{"x":5,"y":-8.7,"c":10},{"x":5.9,"y":-8.8,"c":10},{"x":6.4,"y":-8.4,"c":10},{"x":15.7,"y":-11,"c":10},{"x":14.9,"y":-14.4,"c":10},{"x":14.6,"y":-14.7,"c":10},{"x":15.6,"y":-14.9,"c":10},{"x":15.3,"y":-15.6,"c":10},{"x":21.4,"y":-12.8,"c":10},{"x":20.6,"y":-13,"c":10},{"x":20.6,"y":-13.4,"c":10},{"x":22.6,"y":-13.7,"c":10},{"x":23,"y":-13.7,"c":10},{"x":20.5,"y":-15.7,"c":10},{"x":26.2,"y":-16.1,"c":10},
{"x":4.1,"y":-12.7,"c":13},{"x":3.9,"y":-13.7,"c":13},{"x":4.5,"y":-13.7,"c":13},{"x":5.1,"y":-13.5,"c":13},{"x":5,"y":-13.8,"c":13},{"x":11.1,"y":-4,"c":17},{"x":11,"y":-3.5,"c":13},{"x":10.8,"y":-0.3,"c":14},{"x":10.8,"y":-1.4,"c":17},
{"x":12.7,"y":-4.2,"c":16},{"x":13.3,"y":-2.9,"c":16},{"x":15.6,"y":-3,"c":16},{"x":17.6,"y":-1.9,"c":16},{"x":13.5,"y":2.2,"c":16},{"x":16.5,"y":2.8,"c":16},{"x":15.3,"y":1.8,"c":16},{"x":14.7,"y":1.4,"c":16},{"x":16,"y":1.5,"c":16},{"x":16.7,"y":2.2,"c":16},{"x":17.1,"y":1.2,"c":16},{"x":15.9,"y":0.5,"c":16},{"x":15.6,"y":-0.3,"c":16},{"x":16.8,"y":-0.3,"c":16},{"x":16.7,"y":-0.6,"c":16},{"x":14.2,"y":0,"c":16},{"x":20.5,"y":-7.6,"c":16},{"x":21.4,"y":-7.9,"c":16},{"x":21.8,"y":-7.8,"c":16},{"x":22.3,"y":-12,"c":16},{"x":22.6,"y":-12.1,"c":16},{"x":23.1,"y":-11.9,"c":16},{"x":20.6,"y":6.8,"c":16},{"x":13.8,"y":0.5,"c":4},{"x":22,"y":-14.9,"c":4},
{"x":15.5,"y":-0.7,"c":12},{"x":13.6,"y":-1.5,"c":12},{"x":18.4,"y":-0.9,"c":12},{"x":14.5,"y":-8.2,"c":12},{"x":14.6,"y":-11.6,"c":12},{"x":18.3,"y":-12.1,"c":12},{"x":21.5,"y":-11.7,"c":12},{"x":15.3,"y":-13.4,"c":12},{"x":16.3,"y":-12.9,"c":12},{"x":20.6,"y":-15.6,"c":12},{"x":14.2,"y":-2.5,"c":10},
{"x":15,"y":0.1,"c":13},{"x":16.5,"y":-1.2,"c":13},{"x":16.9,"y":-2.1,"c":13},{"x":12.8,"y":-2.6,"c":13},{"x":17.7,"y":-1.6,"c":13},{"x":16.7,"y":-2.8,"c":13},{"x":17.6,"y":-2.7,"c":13},{"x":19.1,"y":-2.6,"c":13},{"x":13.9,"y":-9.6,"c":13},{"x":15,"y":-9.6,"c":13},{"x":17.4,"y":-9.1,"c":13},{"x":18.3,"y":-8.8,"c":13},{"x":19,"y":-8.5,"c":13},{"x":19.7,"y":-8.5,"c":13},{"x":20.2,"y":-8.7,"c":13},{"x":20.6,"y":-9.7,"c":13},{"x":13.8,"y":-14.1,"c":13},{"x":14.6,"y":-14.1,"c":13},{"x":13.9,"y":-14.6,"c":13},{"x":14.3,"y":-15.4,"c":13},{"x":15.2,"y":-15.6,"c":13},
{"x":15.8,"y":-9.4,"c":19},{"x":16.6,"y":-10.1,"c":19},{"x":17.4,"y":-10.8,"c":19},{"x":16.9,"y":-11.2,"c":19},{"x":17,"y":-11.8,"c":19},{"x":19,"y":-11.7,"c":19},{"x":20.6,"y":-12.3,"c":19},{"x":22,"y":-13.1,"c":19},{"x":23.6,"y":-13.9,"c":19},{"x":15.7,"y":-5.4,"c":19},{"x":16.6,"y":-6.2,"c":19},{"x":20.6,"y":-6.3,"c":19},{"x":21.7,"y":-7,"c":19},{"x":20.1,"y":-2.1,"c":19},{"x":20.9,"y":-2.2,"c":19},{"x":20.1,"y":-2.9,"c":19},{"x":22,"y":-1.5,"c":19},{"x":21.2,"y":-0.1,"c":19},{"x":21.9,"y":-0.7,"c":19},{"x":22.7,"y":0,"c":19},{"x":18.1,"y":0.1,"c":19},{"x":18.8,"y":-0.1,"c":19},{"x":19.5,"y":1,"c":19},{"x":20.8,"y":1.2,"c":19},{"x":18.8,"y":3.1,"c":19},{"x":21.5,"y":2.9,"c":19},{"x":22.2,"y":3.5,"c":19},{"x":22.9,"y":3.2,"c":19},{"x":22.6,"y":2.7,"c":19},{"x":23.3,"y":2.8,"c":19},{"x":21.5,"y":2.2,"c":19},{"x":22.5,"y":1.9,"c":19},{"x":23.6,"y":2.2,"c":19},{"x":22.9,"y":2,"c":19},{"x":22.1,"y":1.4,"c":19},{"x":23.1,"y":1.3,"c":19},{"x":14,"y":7.9,"c":19},{"x":14.9,"y":8.2,"c":19},{"x":14.5,"y":7.5,"c":19},{"x":13.9,"y":5.9,"c":19},{"x":13.8,"y":9.6,"c":19},{"x":14.5,"y":10.2,"c":19},{"x":14.5,"y":10.1,"c":19},{"x":12.1,"y":11.3,"c":19},{"x":10.1,"y":7.8,"c":19},
{"x":28.3,"y":-14.2,"c":4},{"x":26.5,"y":-14.9,"c":4},{"x":27.5,"y":-14.7,"c":4},{"x":29,"y":-14.9,"c":4},{"x":28,"y":-15.1,"c":4},{"x":26.9,"y":-15.6,"c":4},{"x":27.8,"y":-15.7,"c":4},{"x":28.7,"y":-15.4,"c":4},{"x":29.7,"y":-15.9,"c":4},{"x":28.4,"y":-15.9,"c":4},{"x":27.5,"y":-16.1,"c":4},{"x":29,"y":-16.1,"c":4},{"x":26.8,"y":-16.5,"c":4},{"x":27.8,"y":-16.5,"c":4},{"x":28.6,"y":-16.6,"c":4},{"x":27.5,"y":-17,"c":4},{"x":28.2,"y":-16.9,"c":4}
],
"c":[
{"x":-14.4,"y":27.7,"c":2},{"x":-13.2,"y":27.2,"c":13},{"x":-12.4,"y":27.1,"c":13},{"x":-14,"y":26.3,"c":13},{"x":-13.1,"y":26.2,"c":13},{"x":-11.5,"y":26.2,"c":13},{"x":-12.4,"y":26,"c":13},{"x":-12.9,"y":25.3,"c":13},{"x":-12.2,"y":25.3,"c":13},{"x":-14.3,"y":25.1,"c":13},{"x":-13.9,"y":25.1,"c":13},{"x":-11.2,"y":25,"c":13},{"x":-10.3,"y":24.2,"c":13},{"x":-9.6,"y":24.3,"c":13},{"x":-9.2,"y":24.2,"c":13},{"x":-11.2,"y":24.3,"c":13},{"x":-14.5,"y":23.9,"c":13},{"x":-14.1,"y":23.9,"c":13},{"x":-12.9,"y":23.6,"c":13},{"x":-12.6,"y":23.1,"c":13},{"x":-11.4,"y":23.6,"c":13},{"x":-10.9,"y":23.4,"c":13},{"x":-11.9,"y":23.1,"c":13},{"x":-11.5,"y":22.8,"c":13},{"x":-10.5,"y":22.8,"c":13},{"x":-9.6,"y":22.8,"c":13},{"x":-11.2,"y":22.3,"c":13},{"x":-10.7,"y":22.6,"c":13},{"x":-4.7,"y":22,"c":13},{"x":-3.9,"y":21.8,"c":13},{"x":-8.1,"y":20.2,"c":13},{"x":-7.4,"y":19.7,"c":13},{"x":-7.9,"y":19.4,"c":13},{"x":-7.5,"y":19.1,"c":13},{"x":-7.9,"y":18.6,"c":13},{"x":-7.5,"y":18.4,"c":13},{"x":-2.6,"y":11.1,"c":13},{"x":-2.7,"y":10.5,"c":13},{"x":-2.9,"y":9.7,"c":13},{"x":-2.7,"y":9.4,"c":13},{"x":-3,"y":8.1,"c":13},{"x":-3.8,"y":7,"c":13},{"x":-3.8,"y":6.1,"c":13},{"x":-1.5,"y":9.5,"c":13},{"x":-0.9,"y":9.4,"c":13},{"x":-0.2,"y":9.3,"c":13},
{"x":-1.7,"y":7.7,"c":1},{"x":-5.1,"y":4.6,"c":1},{"x":-4.8,"y":4.4,"c":1},{"x":-5.6,"y":2.9,"c":1},{"x":-2.9,"y":3.9,"c":1},{"x":1.2,"y":4.2,"c":1},{"x":-4.2,"y":2.7,"c":1},{"x":-4.6,"y":2,"c":1},{"x":-5.5,"y":1.5,"c":1},{"x":-2.8,"y":2,"c":1},{"x":-2.9,"y":1.1,"c":1},{"x":-0.2,"y":1.2,"c":1},{"x":-3.1,"y":0.1,"c":1},{"x":-2.8,"y":0.1,"c":1},{"x":-2.6,"y":-0.5,"c":1},{"x":-0.5,"y":0,"c":1},{"x":-0.5,"y":-0.5,"c":1},{"x":1.5,"y":-1.1,"c":1},{"x":-3.2,"y":-1.6,"c":1},{"x":-2.8,"y":-1.7,"c":1},{"x":-0.6,"y":-2.5,"c":1},{"x":4.9,"y":6.5,"c":1},{"x":5.3,"y":6,"c":1},{"x":6.1,"y":6,"c":1},{"x":4.8,"y":5.6,"c":1},{"x":7.7,"y":6.4,"c":1},{"x":7.7,"y":3,"c":1},{"x":12.9,"y":5.7,"c":1},{"x":12.3,"y":5.1,"c":1},{"x":12.7,"y":4.5,"c":1},{"x":12.3,"y":2.3,"c":1},
{"x":8.5,"y":7.9,"c":0},{"x":9.4,"y":7.8,"c":0},{"x":11.7,"y":8.3,"c":0},{"x":10.3,"y":7.5,"c":0},{"x":10.8,"y":7.3,"c":0},{"x":11.1,"y":7,"c":0},{"x":10.1,"y":6.6,"c":0},{"x":11,"y":6.1,"c":0},{"x":8.8,"y":5.6,"c":0},{"x":8.5,"y":5.1,"c":0},{"x":10,"y":5.5,"c":0},{"x":9.6,"y":4.9,"c":0},{"x":9.3,"y":4,"c":0},{"x":8.8,"y":3.3,"c":0},{"x":9.3,"y":2.7,"c":0},{"x":-4.2,"y":-18.7,"c":0},{"x":1.5,"y":15.2,"c":0},{"x":1.5,"y":14.2,"c":0},{"x":2.7,"y":14.7,"c":0},{"x":3.1,"y":14.8,"c":0},
{"x":7.3,"y":1.9,"c":16},{"x":6.4,"y":0.4,"c":16},{"x":6.1,"y":0,"c":16},{"x":7.4,"y":0.2,"c":16},{"x":7.7,"y":0.2,"c":16},{"x":9,"y":1.2,"c":2},{"x":0.9,"y":0.8,"c":16},{"x":0.7,"y":0.5,"c":16},{"x":-5.4,"y":0.1,"c":16},{"x":-4.9,"y":0.1,"c":16},
{"x":-1.9,"y":20.7,"c":14},{"x":-1.2,"y":20.7,"c":14},{"x":-0.5,"y":21.1,"c":14},{"x":0.1,"y":20.9,"c":14},{"x":-1,"y":20.1,"c":14},{"x":-0.2,"y":20.5,"c":14},{"x":-0.9,"y":19.6,"c":14},{"x":-0.2,"y":19.7,"c":14},{"x":-1.6,"y":19,"c":14},{"x":-1.9,"y":18.3,"c":14},{"x":-2.4,"y":17.9,"c":14},{"x":-2.8,"y":17.2,"c":14},{"x":-3.7,"y":17,"c":14},{"x":-4.2,"y":16.7,"c":14},{"x":-2.9,"y":19.1,"c":14},{"x":-3.5,"y":18.6,"c":14},{"x":-4.2,"y":18.3,"c":14},{"x":-5.1,"y":16.8,"c":14},{"x":-4.8,"y":16.5,"c":14},{"x":-5.4,"y":16.3,"c":14},{"x":-3.7,"y":15.1,"c":14},{"x":-4.2,"y":14.8,"c":14},{"x":-4.6,"y":14.5,"c":14},{"x":-9.3,"y":12.4,"c":14},{"x":-9.7,"y":11.7,"c":14},{"x":-8.9,"y":11.6,"c":14},{"x":-9.5,"y":11.3,"c":14},{"x":-8.7,"y":11.3,"c":14},{"x":-9.7,"y":11,"c":14},{"x":-9.2,"y":10.8,"c":14},{"x":-8.9,"y":10.5,"c":14},
{"x":-7.4,"y":15.6,"c":10},{"x":-8.6,"y":15.3,"c":10},{"x":-9,"y":15.1,"c":10},{"x":-8,"y":14.7,"c":10},{"x":-9,"y":14,"c":10},{"x":-9.9,"y":13.5,"c":10},{"x":-10.7,"y":13.4,"c":10},{"x":-13.3,"y":9.4,"c":10},{"x":-14.1,"y":9.1,"c":10},{"x":-15.7,"y":8.9,"c":10},{"x":-15,"y":8.9,"c":10},{"x":-14.6,"y":8.4,"c":10},{"x":-13.6,"y":8.6,"c":10},{"x":-12.2,"y":8.6,"c":10},{"x":-13.1,"y":8,"c":10},{"x":-12.6,"y":7.7,"c":10},{"x":-13.1,"y":7.3,"c":10},{"x":-16.3,"y":6.9,"c":10},{"x":-16.3,"y":6.4,"c":10},{"x":-14.7,"y":5,"c":10},{"x":-14.7,"y":4.5,"c":10},{"x":-16.2,"y":5.4,"c":10},{"x":-16.1,"y":4.9,"c":10},{"x":-16.8,"y":4.3,"c":10},{"x":-16,"y":4,"c":10},{"x":-17.5,"y":3.8,"c":10},{"x":-16.5,"y":3.3,"c":10},{"x":-17,"y":3,"c":10},{"x":-17.4,"y":2.7,"c":10},
{"x":-14.1,"y":2.7,"c":2},{"x":-16.7,"y":17.1,"c":2},{"x":-15.8,"y":16.9,"c":4},{"x":-14.4,"y":16.6,"c":4},{"x":-14.8,"y":16.1,"c":4},{"x":-14.7,"y":15.8,"c":4},{"x":-13.8,"y":15.4,"c":4},{"x":-13.2,"y":15.6,"c":4},{"x":-12.5,"y":16,"c":4},{"x":-15.4,"y":13.8,"c":18},{"x":-15.1,"y":14.5,"c":8},{"x":-12.6,"y":12.8,"c":16},
{"x":-22.5,"y":17.7,"c":12},{"x":-21.9,"y":17.5,"c":12},{"x":-22.7,"y":17,"c":12},{"x":-22.1,"y":16.8,"c":12},{"x":-23.2,"y":16.3,"c":12},{"x":-22.2,"y":16.1,"c":12},{"x":-21.3,"y":16.1,"c":12},{"x":-23.6,"y":15.6,"c":12},{"x":-22.8,"y":15.8,"c":12},{"x":-21.9,"y":15.3,"c":12},{"x":-23.2,"y":14.9,"c":12},{"x":-22.5,"y":15.1,"c":12},{"x":-21.3,"y":15.1,"c":12},{"x":-22.6,"y":14.3,"c":12},{"x":-22.2,"y":13.3,"c":12},{"x":-23.8,"y":12.8,"c":12},{"x":-24.4,"y":11.2,"c":12},{"x":-23.3,"y":11.6,"c":12},{"x":-23.3,"y":11,"c":12},{"x":-21.1,"y":11,"c":12},{"x":-24.2,"y":10.3,"c":12},{"x":-23.3,"y":10,"c":12},{"x":-21.6,"y":10.7,"c":12},{"x":-21.3,"y":10.3,"c":12},{"x":-20.9,"y":10,"c":12},{"x":-24,"y":9.6,"c":12},{"x":-23.4,"y":9.4,"c":12},{"x":-22.5,"y":9.4,"c":12},{"x":-21.9,"y":9.7,"c":12},{"x":-23.9,"y":9,"c":12},{"x":-22.8,"y":8.9,"c":12},{"x":-20.6,"y":9.1,"c":12},{"x":-20,"y":8.9,"c":12},{"x":-20.6,"y":8.4,"c":12},
{"x":0.7,"y":-21.7,"c":18},{"x":-0.5,"y":-22.3,"c":18},{"x":-1.6,"y":-22.5,"c":18},{"x":1.3,"y":-22.5,"c":18},{"x":0.7,"y":-22.7,"c":18},{"x":0,"y":-23,"c":18},{"x":-7.7,"y":-23,"c":18},{"x":-7.3,"y":-23,"c":18},{"x":-6.1,"y":-22.3,"c":18},{"x":-5.7,"y":-23.3,"c":18},{"x":-6.5,"y":-24,"c":18},{"x":-5.1,"y":-25.1,"c":18},{"x":-4.8,"y":-24.9,"c":18},{"x":-3.9,"y":-24.2,"c":18},{"x":-1.9,"y":-23.4,"c":18},{"x":-0.6,"y":-23.4,"c":18},{"x":-2.5,"y":-24.2,"c":18},{"x":-1.6,"y":-24.3,"c":18},{"x":0.4,"y":-24.1,"c":18},{"x":0.1,"y":-24.8,"c":18},{"x":0.9,"y":-23.8,"c":18},{"x":-3.4,"y":-24.8,"c":18},{"x":-2.6,"y":-25.1,"c":18},{"x":-0.8,"y":-24.8,"c":18},{"x":-0.6,"y":-25.4,"c":18},{"x":-2.5,"y":-25.7,"c":18},{"x":-3.5,"y":-25.7,"c":18},{"x":-0.9,"y":-25.9,"c":18},{"x":-5.9,"y":-26.4,"c":18},{"x":-5.1,"y":-26.4,"c":18},{"x":-4.5,"y":-26.2,"c":18},{"x":-3.5,"y":-26.8,"c":18},
{"x":-13.5,"y":-17.4,"c":19},{"x":-12.9,"y":-17.4,"c":19},{"x":-12.6,"y":-18.1,"c":19},{"x":-13.2,"y":-18.1,"c":19},{"x":-10.9,"y":-17.4,"c":19},{"x":-11.5,"y":-17.3,"c":19},{"x":-9.5,"y":-17,"c":19},{"x":-10.9,"y":-16.1,"c":19},{"x":-10,"y":-15.1,"c":19},{"x":-10.8,"y":-15.3,"c":19},{"x":-9.2,"y":-15.3,"c":19},{"x":-9.6,"y":-15.7,"c":19},{"x":-10.7,"y":-15.8,"c":19},{"x":-10.4,"y":-18.4,"c":19},{"x":-10.9,"y":-19,"c":19},{"x":-10.6,"y":-19.3,"c":19},{"x":-13.6,"y":-20,"c":19},{"x":-12.8,"y":-19.8,"c":19},{"x":-12.1,"y":-19.3,"c":19},{"x":-12.1,"y":-20.2,"c":19},{"x":-6.7,"y":-16.1,"c":19},
{"x":-0.6,"y":-8.6,"c":19},{"x":-0.2,"y":-9,"c":19},{"x":-1.9,"y":-9.8,"c":19},{"x":-1.2,"y":-9.6,"c":19},{"x":0.7,"y":-9.8,"c":19},{"x":1.3,"y":-10.1,"c":19},{"x":0.4,"y":-10.3,"c":19},{"x":-1.5,"y":-11,"c":19},{"x":-0.6,"y":-11.2,"c":19},{"x":0.1,"y":-10.7,"c":19},{"x":1,"y":-10.8,"c":19},{"x":1.6,"y":-10.7,"c":19},{"x":2.3,"y":-10.7,"c":19},
{"x":1.7,"y":-7.4,"c":1},{"x":2.1,"y":-8.4,"c":1},{"x":2.1,"y":-9.1,"c":1},{"x":8.1,"y":-9.2,"c":1},{"x":5.2,"y":-12.3,"c":1},{"x":0.3,"y":-16.8,"c":1},{"x":2.3,"y":-17.2,"c":1},{"x":3,"y":-5.1,"c":17},{"x":-9,"y":-12.8,"c":17},{"x":3.3,"y":-11.9,"c":10},{"x":4,"y":-11.9,"c":10},{"x":4.6,"y":-14,"c":16},{"x":2.7,"y":-13.7,"c":4},{"x":-10.2,"y":-12.3,"c":16},{"x":-9.7,"y":-12.5,"c":16},
{"x":14.2,"y":-9.9,"c":17},{"x":12.8,"y":-11.4,"c":17},{"x":12.9,"y":-11.9,"c":17},{"x":15.2,"y":-11.2,"c":17},{"x":14.6,"y":-11.7,"c":17},{"x":14.9,"y":-12.5,"c":17},{"x":13.7,"y":-13.5,"c":17},{"x":14.5,"y":-13.6,"c":17},{"x":15.4,"y":-13.3,"c":17},{"x":15,"y":-14.2,"c":17},{"x":14.6,"y":-14.5,"c":17},{"x":15.5,"y":-14.5,"c":17},{"x":14.8,"y":-15.5,"c":17},{"x":12.9,"y":-15.2,"c":17},{"x":9.5,"y":-14.4,"c":17},{"x":6.2,"y":-15.2,"c":17},{"x":7.7,"y":-14.9,"c":17},{"x":8.2,"y":-15.5,"c":17},{"x":3.9,"y":-15.7,"c":17},{"x":5,"y":-16,"c":17},{"x":5.9,"y":-16,"c":17},{"x":6.8,"y":-16.1,"c":17},{"x":4.8,"y":-16.8,"c":17},{"x":5.3,"y":-16.6,"c":17},{"x":6.2,"y":-16.8,"c":17},{"x":7.1,"y":-16.5,"c":17},{"x":4.2,"y":-17.4,"c":17},{"x":5,"y":-17.4,"c":17},{"x":5.5,"y":-17.9,"c":17},{"x":3.9,"y":-18.4,"c":17},{"x":7.8,"y":-18.1,"c":17},{"x":8.2,"y":-18.5,"c":17},{"x":4.8,"y":-19.5,"c":17},{"x":-1.6,"y":-19,"c":17},{"x":16.4,"y":-13.8,"c":19},{"x":16,"y":-13.6,"c":19},{"x":12.3,"y":-15.8,"c":19},{"x":12.6,"y":-15.5,"c":19},{"x":12.3,"y":-13.1,"c":19},{"x":13.1,"y":-12.5,"c":19},
{"x":3.6,"y":-19.8,"c":16},{"x":3.2,"y":-19.2,"c":2},{"x":4.2,"y":-16.8,"c":2},{"x":2,"y":-17.9,"c":2},{"x":-8,"y":-20.3,"c":16},{"x":-7.4,"y":-19.5,"c":16},{"x":-7.7,"y":-20,"c":16},{"x":-8.3,"y":-20.5,"c":16},{"x":-6,"y":-19.3,"c":16},{"x":-11.1,"y":-25.7,"c":4},{"x":-10,"y":-25.1,"c":4},{"x":-9.7,"y":-25,"c":4},{"x":-8.8,"y":-27.3,"c":16},{"x":-9.2,"y":-28.1,"c":16},{"x":-8.5,"y":-28.1,"c":16},{"x":-10,"y":-29,"c":16},{"x":-10.3,"y":-29.4,"c":16},{"x":-1,"y":-27.3,"c":16},{"x":-1.9,"y":-28,"c":16},{"x":-2.8,"y":-29.9,"c":16},
{"x":-4.9,"y":-29.2,"c":2},{"x":-3.5,"y":-29.7,"c":2},{"x":-2.3,"y":-29,"c":2},{"x":-3.4,"y":-31.5,"c":2},{"x":-3.9,"y":-31.8,"c":2},{"x":-2.9,"y":-31.8,"c":2},{"x":-4.2,"y":-32.3,"c":2},{"x":-3.4,"y":-32.1,"c":2},{"x":-2.5,"y":-32.3,"c":2},{"x":-3.9,"y":-32.8,"c":2},{"x":-3.1,"y":-32.9,"c":2},{"x":-3.5,"y":-33.1,"c":2},{"x":-2.8,"y":-32.6,"c":2},{"x":-7.1,"y":-33.4,"c":4},{"x":-6.3,"y":-33.2,"c":4},{"x":-6,"y":-33.2,"c":4},{"x":10.4,"y":17.9,"c":4},{"x":11.3,"y":17.5,"c":4},{"x":11.6,"y":17,"c":4},{"x":11.1,"y":17.5,"c":4},
{"x":16.3,"y":-3.7,"c":2},{"x":18,"y":-5.3,"c":2},{"x":18.4,"y":-5.2,"c":2},{"x":19,"y":-5.2,"c":2},{"x":21.1,"y":-3.8,"c":2},{"x":22.4,"y":-3.6,"c":2},{"x":21.1,"y":-4.8,"c":2},{"x":22.2,"y":-4.5,"c":2},{"x":21.7,"y":-4.7,"c":2},{"x":25.5,"y":-1.8,"c":2},{"x":26.1,"y":-1.6,"c":2},{"x":27,"y":-1.3,"c":2},{"x":26.1,"y":-3.1,"c":2},{"x":25.6,"y":-2.9,"c":2},{"x":33.1,"y":-0.8,"c":2},{"x":28.4,"y":1.9,"c":2},
{"x":23.3,"y":7,"c":6},{"x":23.8,"y":7.3,"c":6},{"x":23.9,"y":7,"c":6},{"x":24.6,"y":7,"c":9},{"x":26.9,"y":9.1,"c":9},{"x":27.6,"y":9.1,"c":9},{"x":28.1,"y":8.9,"c":9},{"x":28.4,"y":8.4,"c":9},{"x":28.7,"y":8.1,"c":9},{"x":27.7,"y":7.8,"c":9},{"x":28.1,"y":7.7,"c":9},{"x":27.5,"y":8.1,"c":9},{"x":28.2,"y":7.5,"c":8},{"x":33.9,"y":1.1,"c":8},
{"x":22.4,"y":4.1,"c":17},{"x":24,"y":3.5,"c":17},{"x":27.7,"y":0.1,"c":17},{"x":28.2,"y":0.1,"c":17},{"x":28,"y":-1,"c":17},{"x":22.7,"y":3,"c":14},{"x":22.6,"y":2.8,"c":14},{"x":24.8,"y":-2.6,"c":14},{"x":25.1,"y":-2.6,"c":14},{"x":25.2,"y":2.5,"c":0},{"x":25.8,"y":2.4,"c":0},{"x":26.3,"y":1.6,"c":0},{"x":27.4,"y":0.1,"c":0},{"x":23,"y":0.4,"c":12},{"x":23.1,"y":-0.7,"c":16},{"x":28.7,"y":1.9,"c":16},{"x":30.2,"y":-2.1,"c":16},{"x":32,"y":-2,"c":16},{"x":31.7,"y":-2.7,"c":16},{"x":31.1,"y":-3.2,"c":16},{"x":31.9,"y":-2.9,"c":16},{"x":23.8,"y":-1.3,"c":18},{"x":32.7,"y":3.1,"c":18},{"x":33.8,"y":3.2,"c":18},{"x":34.2,"y":2.9,"c":18},{"x":33.9,"y":2.2,"c":18},{"x":30.9,"y":-1.9,"c":12},{"x":30.6,"y":-2.7,"c":12},
{"x":31.3,"y":2,"c":0},{"x":32,"y":1.9,"c":0},{"x":31,"y":1.3,"c":0},{"x":32.7,"y":1.5,"c":0},{"x":31.6,"y":1.2,"c":0},{"x":32.3,"y":1,"c":0},{"x":30.9,"y":0.6,"c":0},{"x":31.4,"y":0.4,"c":0},{"x":32,"y":0.4,"c":0},{"x":32.9,"y":0.4,"c":0},{"x":31.1,"y":-0.1,"c":0},{"x":31.9,"y":-0.2,"c":0},{"x":32.7,"y":-0.1,"c":0},{"x":33.6,"y":0.1,"c":0},{"x":31.6,"y":-0.5,"c":0},{"x":32.3,"y":-0.5,"c":0}
]
},
"columns":11,
"spacing":0,
"align":"none",
"bounds":"flush",
"concat":[
{"width":917,"height":6,"data":{"values":[]},"mark":"point","encoding":{}},
{"width":27,"height":6,"data":{"values":[]},"mark":"point","encoding":{}},
{"width":45,"height":6,"data":{"values":[]},"mark":"point","encoding":{}},
{"width":301,"height":3,"data":{"values":[]},"mark":"point","encoding":{}},
{"width":895,"height":3,"data":{"values":[]},"mark":"point","encoding":{}},
{"width":28,"height":3,"data":{"values":[]},"mark":"point","encoding":{}},
{"width":45,"height":3,"data":{"values":[]},"mark":"point","encoding":{}},
{"width":305,"height":1,"data":{"values":[]},"mark":"point","encoding":{}},
{"width":903,"height":1,"data":{"values":[]},"mark":"point","encoding":{}},
{"width":26,"height":1,"data":{"values":[]},"mark":"point","encoding":{}},
{"width":45,"height":1,"data":{"values":[]},"mark":"point","encoding":{}},
{"width":917,"height":910,"view":{"stroke":"#1a1a1a","strokeWidth":5.7},"data":{"name":"a"},
"mark":{"type":"circle","size":190,"opacity":0.92,"clip":true},
"encoding":{
"x":{"field":"x","type":"quantitative","scale":{"domain":[-31.9,30.27],"nice":false,"zero":false},"axis":{"values":[-30,-20,-10,0,10,20,30],"tickSize":-27,"tickWidth":5,"labelPadding":37,"title":["t-SNE组件1","(a) 仅MAFM模块"],"titleBaseline":"alphabetic","titleLineHeight":88,"titleY":132}},
"y":{"field":"y","type":"quantitative","scale":{"domain":[-22.14,21.74],"nice":false,"zero":false},"axis":{"values":[-20,-15,-10,-5,0,5,10,15,20],"tickSize":-27,"tickWidth":5,"labelPadding":40,"title":"t-SNE组件2","titleBaseline":"middle","titleX":-159,"titleY":455}},
"color":{"field":"c","type":"nominal","legend":null,"scale":{"domain":[0,1,2,4,6,8,9,10,12,13,14,16,17,18,19],"range":["#4f7aa5","#b0bcd8","#f4813a","#5fa353","#c9474a","#9a6fae","#c9aed2","#8f675f","#d27fb5","#f3b0ce","#908882","#b3ae4a","#d8d48f","#55b5b2","#a5d8d4"]}}
}},
{"width":27,"height":1,"data":{"values":[]},"mark":"point","encoding":{}},
{"width":45,"height":910,"title":{"text":["类别","编号"],"dx":8,"offset":17},
"layer":[{"data":{"name":"bands"},"mark":{"type":"rect"},"encoding":{"y":{"field":"v0","type":"quantitative","scale":{"domain":[0,15],"nice":false,"zero":false},"axis":{"orient":"right","values":[0,2,4,6,8,10,12,14],"format":"d","tickSize":7,"tickWidth":2.5,"labelPadding":18,"title":null}},"y2":{"field":"v1"},"color":{"field":"c","type":"nominal","legend":null,"scale":{"domain":[0,1,2,3,4,5,6,7,8,9,10,11,12,13,14,15,16,17,18,19],"range":["#6f92b1","#c0c9de","#f4975c","#fbc098","#72b06a","#aed49c","#cd6363","#f7a6a6","#a985b5","#d0bad5","#a67f76","#cdaca2","#da92bd","#f5bcd6","#a39b96","#d2cdc9","#c1bd69","#dcd89c","#72c0bd","#b4dcd9"]}}}},
{"data":{"values":[{"v0":0,"v1":15}]},"mark":{"type":"rect","fillOpacity":0,"stroke":"#333333","strokeWidth":2.5},"encoding":{"y":{"field":"v0","type":"quantitative"},"y2":{"field":"v1"}}}]},
{"width":301,"height":1,"data":{"values":[]},"mark":"point","encoding":{}},
{"width":895,"height":896,"view":{"stroke":"#1a1a1a","strokeWidth":5.7},"data":{"name":"b"},
"mark":{"type":"circle","size":190,"opacity":0.92,"clip":true},
"encoding":{
"x":{"field":"x","type":"quantitative","scale":{"domain":[-32.85,32.5],"nice":false,"zero":false},"axis":{"values":[-30,-20,-10,0,10,20,30],"tickSize":-27,"tickWidth":5,"labelPadding":37,"title":["t-SNE组件1","(b) 仅CMRW模块"],"titleBaseline":"alphabetic","titleLineHeight":83,"titleY":136}},
"y":{"field":"y","type":"quantitative","scale":{"domain":[-18.78,20.51],"nice":false,"zero":false},"axis":{"values":[-15,-10,-5,0,5,10,15,20],"tickSize":-27,"tickWidth":5,"labelPadding":40,"title":"t-SNE组件2","titleBaseline":"middle","titleX":-145,"titleY":436}},
"color":{"field":"c","type":"nominal","legend":null,"scale":{"domain":[0,1,2,4,6,8,9,10,12,13,14,16,17,18,19],"range":["#4f7aa5","#b0bcd8","#f4813a","#5fa353","#c9474a","#9a6fae","#c9aed2","#8f675f","#d27fb5","#f3b0ce","#908882","#b3ae4a","#d8d48f","#55b5b2","#a5d8d4"]}}
}},
{"width":28,"height":1,"data":{"values":[]},"mark":"point","encoding":{}},
{"width":45,"height":896,"title":{"text":["类别","编号"],"dx":4,"offset":15},
"layer":[{"data":{"name":"bands"},"mark":{"type":"rect"},"encoding":{"y":{"field":"v0","type":"quantitative","scale":{"domain":[0,15],"nice":false,"zero":false},"axis":{"orient":"right","values":[0,2,4,6,8,10,12,14],"format":"d","tickSize":7,"tickWidth":2.5,"labelPadding":18,"title":null}},"y2":{"field":"v1"},"color":{"field":"c","type":"nominal","legend":null,"scale":{"domain":[0,1,2,3,4,5,6,7,8,9,10,11,12,13,14,15,16,17,18,19],"range":["#6f92b1","#c0c9de","#f4975c","#fbc098","#72b06a","#aed49c","#cd6363","#f7a6a6","#a985b5","#d0bad5","#a67f76","#cdaca2","#da92bd","#f5bcd6","#a39b96","#d2cdc9","#c1bd69","#dcd89c","#72c0bd","#b4dcd9"]}}}},
{"data":{"values":[{"v0":0,"v1":15}]},"mark":{"type":"rect","fillOpacity":0,"stroke":"#333333","strokeWidth":2.5},"encoding":{"y":{"field":"v0","type":"quantitative"},"y2":{"field":"v1"}}}]},
{"width":305,"height":1,"data":{"values":[]},"mark":"point","encoding":{}},
{"width":903,"height":894,"view":{"stroke":"#1a1a1a","strokeWidth":5.7},"data":{"name":"c"},
"mark":{"type":"circle","size":190,"opacity":0.92,"clip":true},
"encoding":{
"x":{"field":"x","type":"quantitative","scale":{"domain":[-27.44,37.18],"nice":false,"zero":false},"axis":{"values":[-20,-10,0,10,20,30],"tickSize":-27,"tickWidth":5,"labelPadding":37,"title":["t-SNE组件1","(c) MAFM+CMRW模块"],"titleBaseline":"alphabetic","titleLineHeight":73,"titleY":133}},
"y":{"field":"y","type":"quantitative","scale":{"domain":[-36.33,30.77],"nice":false,"zero":false},"axis":{"values":[-30,-20,-10,0,10,20,30],"tickSize":-27,"tickWidth":5,"labelPadding":40,"title":"t-SNE组件2","titleBaseline":"middle","titleX":-154,"titleY":417}},
"color":{"field":"c","type":"nominal","legend":null,"scale":{"domain":[0,1,2,4,6,8,9,10,12,13,14,16,17,18,19],"range":["#4f7aa5","#b0bcd8","#f4813a","#5fa353","#c9474a","#9a6fae","#c9aed2","#8f675f","#d27fb5","#f3b0ce","#908882","#b3ae4a","#d8d48f","#55b5b2","#a5d8d4"]}}
}},
{"width":26,"height":1,"data":{"values":[]},"mark":"point","encoding":{}},
{"width":45,"height":894,"title":{"text":["类别","编号"],"dx":-4,"offset":14},
"layer":[{"data":{"name":"bands"},"mark":{"type":"rect"},"encoding":{"y":{"field":"v0","type":"quantitative","scale":{"domain":[0,15],"nice":false,"zero":false},"axis":{"orient":"right","values":[0,2,4,6,8,10,12,14],"format":"d","tickSize":7,"tickWidth":2.5,"labelPadding":18,"title":null}},"y2":{"field":"v1"},"color":{"field":"c","type":"nominal","legend":null,"scale":{"domain":[0,1,2,3,4,5,6,7,8,9,10,11,12,13,14,15,16,17,18,19],"range":["#6f92b1","#c0c9de","#f4975c","#fbc098","#72b06a","#aed49c","#cd6363","#f7a6a6","#a985b5","#d0bad5","#a67f76","#cdaca2","#da92bd","#f5bcd6","#a39b96","#d2cdc9","#c1bd69","#dcd89c","#72c0bd","#b4dcd9"]}}}},
{"data":{"values":[{"v0":0,"v1":15}]},"mark":{"type":"rect","fillOpacity":0,"stroke":"#333333","strokeWidth":2.5},"encoding":{"y":{"field":"v0","type":"quantitative"},"y2":{"field":"v1"}}}]}
]
}
